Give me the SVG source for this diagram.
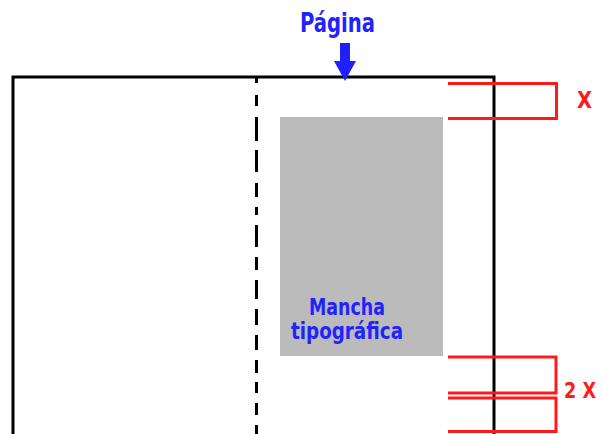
<svg xmlns="http://www.w3.org/2000/svg" width="603" height="434" viewBox="0 0 603 434">
<style>
.blk{fill:none;stroke:#000;stroke-width:3}
.red{fill:none;stroke:#ff1a1a;stroke-width:3}
.bt{font-family:"DejaVu Sans Condensed","Liberation Sans",sans-serif;font-weight:bold;fill:#2222ff}
.rt{font-family:"DejaVu Sans Condensed","Liberation Sans",sans-serif;font-weight:bold;fill:#ff1a1a}
</style>
<rect width="603" height="434" fill="#fff"/>
<g id="pagina">
<path class="blk" d="M13,434 V77 H494 V434"/>
<path d="M256.5,77 V83 M256.5,95 V106 M256.5,117 V141 M256.5,150 V172 M256.5,183 V197 M256.5,207 V215 M256.5,225 V247 M256.5,257 V270 M256.5,280 V299 M256.5,309 V325 M256.5,335 V350 M256.5,360 V373 M256.5,382 V393 M256.5,403 V415 M256.5,425 V434" stroke="#000" stroke-width="3" fill="none"/>
</g>
<g id="mancha">
<rect x="280" y="117" width="163" height="239" fill="#bbbbbb"/>
<text class="bt" x="347" y="315" font-size="23" text-anchor="middle" textLength="76" lengthAdjust="spacingAndGlyphs">Mancha</text>
<text class="bt" x="347" y="339" font-size="23" text-anchor="middle" textLength="112" lengthAdjust="spacingAndGlyphs">tipográfica</text>
</g>
<g id="label-pagina">
<text class="bt" x="337.5" y="32" font-size="26" text-anchor="middle" textLength="75" lengthAdjust="spacingAndGlyphs">Página</text>
</g>
<g id="connectors">
<path d="M340,43 H350 V61 H356 L345,81 L334,61 H340 Z" fill="#2020ff"/>
<path class="red" d="M448,83.5 H556.5 V118.5 H448"/>
<path class="red" d="M448,357 H556 V393 H448"/>
<path class="red" d="M448,398 H556 V431.5 H448"/>
</g>
<g id="label-x">
<text class="rt" x="584.5" y="108" font-size="23" text-anchor="middle" textLength="15" lengthAdjust="spacingAndGlyphs">X</text>
</g>
<g id="label-2x">
<text class="rt" x="580" y="398" font-size="22" text-anchor="middle" textLength="32" lengthAdjust="spacingAndGlyphs">2 X</text>
</g>
</svg>
